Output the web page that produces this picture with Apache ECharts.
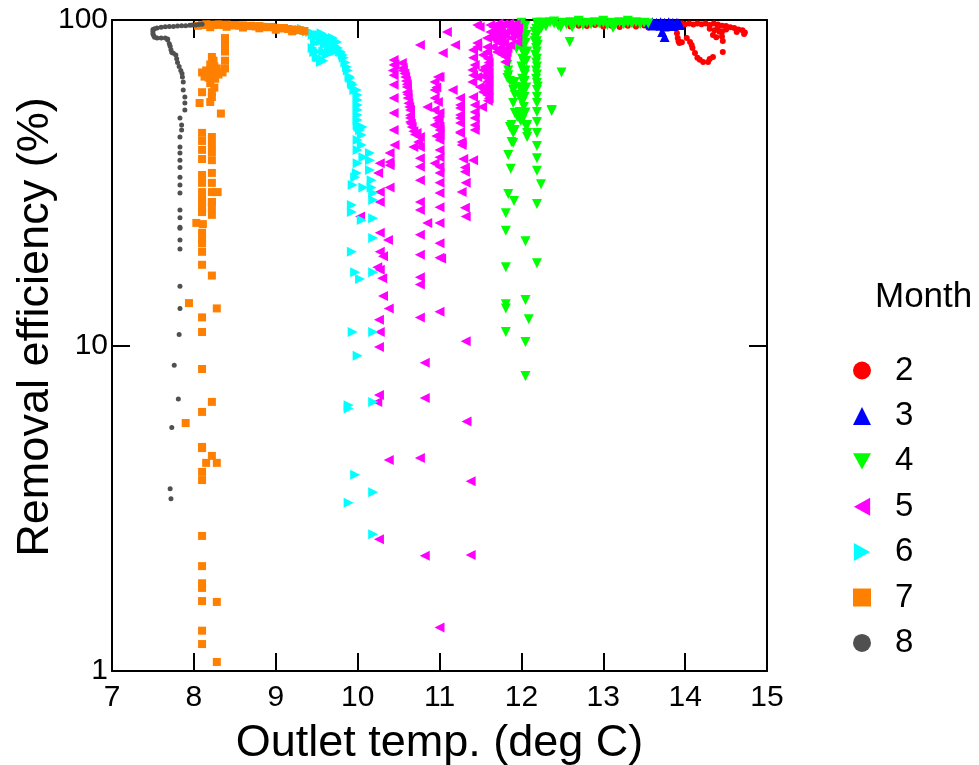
<!DOCTYPE html>
<html><head><meta charset="utf-8">
<script src="https://cdn.jsdelivr.net/npm/echarts@6/dist/echarts.min.js"></script>
<style>html,body{margin:0;padding:0;background:#fff}#c{width:979px;height:765px}</style>
</head><body><div id="c"></div>
<script>
const months = ['2','3','4','5','6','7','8'];
const xTicks = [7,8,9,10,11,12,13,14,15];
const yTicks = [1,10,100];

const month2 = [
[12.6,95.5],[12.7,96],[12.8,95.8],[12.9,96.5],[13.0,95.5],[13.1,96],[13.2,95.2],[13.3,96],[13.4,95.5],[13.5,96.2],[13.55,94.8],[13.6,95.5],
[13.92,96.5],[13.96,97.5],[14.0,97],[14.05,97.5],[14.1,96.8],[14.15,97.5],[14.2,97],[14.25,97.5],[14.3,96.5],[14.35,97.5],[14.4,96.8],[14.45,96],[14.5,95.8],[14.55,95],[14.6,94.5],[14.65,93.5],[14.7,93],[14.73,91.5],[14.72,90.5],[14.63,91.8],[14.5,93.5],[14.45,92],[14.42,92],[14.45,89],[14.38,88.5],[14.34,90],[14.36,93],[14.4,95],[14.3,94],
[13.89,94],[13.9,91],[13.91,88],[13.92,86],[13.93,85],[13.96,85.5],[14.02,88],[14.06,85.6],[14.08,83.8],[14.09,82],[14.12,79.2],[14.15,76.5],[14.18,75.5],[14.22,74.3],[14.28,74.3],[14.3,75.9],[14.34,77],[14.46,79.7],[14.46,86.2]
];
const month3 = [
[13.55,98],[13.58,97],[13.6,98.5],[13.62,97.5],[13.65,98],[13.68,97],[13.7,98.5],[13.72,97.5],[13.75,98],[13.78,97],[13.8,98.5],[13.82,97.5],[13.85,98],[13.88,97],[13.9,98],[13.92,97.5],[13.94,96.5],[13.7,96],[13.75,95.5],[13.8,96],[13.85,95.8],[13.6,96.2],[13.72,91.9],[13.75,88.7]
];
const month4 = [
[12.25,98],[12.3,97],[12.35,98.5],[12.4,97.5],[12.45,96],[12.5,98],[12.55,97],[12.6,98.5],[12.62,95],[12.65,97.5],[12.7,98],[12.75,96.5],[12.8,98],[12.85,97],[12.9,98.5],[12.95,97.5],[13.0,98],[13.05,96.5],[13.1,98],[13.12,94.5],[13.15,97],[13.2,98.5],[13.25,97],[13.3,98],[13.35,97.5],[13.4,98.5],[13.45,97],[13.5,98],[13.55,97.5],[12.4,99],[12.7,99.5],[13.0,99.5],[13.3,99.5],[12.3,95.5],[12.48,95],
[12.59,85.6],[12.49,69],[12.37,52.9],[12.37,52.5],
[12.19,98],[12.2,96],[12.18,94],[12.2,92],[12.19,90],[12.17,88],[12.19,86],[12.2,84],[12.18,82],[12.19,80],[12.17,78],[12.19,76],[12.18,74],[12.19,72],[12.18,70],[12.19,68],[12.18,66],[12.19,64],[12.2,62.5],[12.19,61],[12.22,96],[12.24,94],[12.23,98],[12.16,92],[12.16,86],
[12.19,58],[12.19,55.6],[12.19,52.2],[12.19,48.6],[12.19,45],[12.19,41],[12.19,37.6],[12.19,34.4],[12.24,31.3],[12.19,27.2],[12.19,17.9],
[12.0,98],[12.02,96],[12.0,94],[12.03,92],[12.0,90],[12.02,88],[12.01,86],[12.03,84],[12.0,82],[12.02,80],[12.04,78],[12.01,76],[12.03,74],[12.0,72],[12.02,70],[12.04,68],[12.01,66],[12.03,64],[12.0,62],[12.02,60],[12.04,58],[12.01,56],[12.03,54],[12.05,52],[12.02,50.5],[11.99,49],[12.06,47],[12.07,45],[12.07,43.7],[11.97,96],[11.98,92],[11.97,88],[12.05,96],[12.06,90],[12.05,85],[12.07,80],[12.06,75],[12.05,70],[12.04,65],[12.06,62],[11.98,58],[11.98,62],[11.94,81.8],[12.04,78],[12.01,49.3],[12.07,47.6],[11.98,52.2],[11.98,50],
[11.83,72.7],[11.84,70],[11.84,67.7],[11.83,66.3],[11.86,65],[11.92,64.5],[11.92,62.2],[11.9,60.9],[11.92,58.8],[11.9,55.6],[11.92,51.8],[11.95,50.4],[11.88,47.6],[11.86,46.9],[11.92,45.9],[11.9,45],[11.88,42.2],
[11.9,41.9],[11.84,38.5],[11.87,34.9],[11.84,29.2],[11.91,27.8],[11.81,25.5],[11.81,22.5],[12.05,20.9],[11.81,17.4],[12.05,13.8],[11.81,13.4],[11.81,13.0],[12.09,12.05],[11.81,11.0],[12.05,10.25],[12.05,8.06]
];
const month5 = [
[10.76,83.8],[11.04,79.2],[11.09,91.9],[11.19,83.8],
[10.44,75.4],[10.45,73],[10.44,72.7],[10.43,70],[10.44,67.7],[10.44,63.2],[10.44,57.6],[10.44,51.8],[10.44,45.9],[10.45,41.3],
[10.39,39.0],[10.39,36.6],[10.39,35.8],[10.27,36.3],[10.25,33.9],[10.39,30.6],[10.27,29.6],[10.27,27.6],[10.27,22.2],[10.37,21.1],[10.27,19.4],[10.03,24.9],
[10.31,18.8],[10.24,17.4],[10.27,17.1],[10.3,16.1],[10.31,14.2],[10.38,13.0],[10.26,12.0],[10.27,11.0],[10.26,9.9],[10.26,7.05],[10.24,6.71],[10.38,4.45],[10.26,2.54],
[10.54,73.8],[10.55,71.2],[10.55,70],[10.57,68.5],[10.58,66.8],[10.59,65],[10.6,63.5],[10.6,62.2],[10.6,60],[10.61,59],[10.61,57.6],[10.62,55.5],[10.63,54],[10.64,52.9],[10.64,51],[10.64,50],[10.64,48.6],[10.65,48],[10.66,46.9],[10.68,45.5],[10.7,44.5],[10.72,45],[10.76,43.7],[10.74,42.2],[10.68,40.7],[10.76,40.7],
[10.94,64.5],[10.98,66.8],[11.0,66.8],[10.94,60.9],[10.96,62],[10.94,57.6],[10.98,56],[10.94,52.9],[10.97,50],[10.99,49],[11.0,47],[10.94,47.6],[10.96,44],[11.0,44.5],[11.0,51.8],[11.0,45.9],[11.0,42.8],[11.0,39.9],[11.0,37.9],[10.94,36.3],[11.0,35.4],[11.0,33.9],[11.0,31.6],[11.0,29.4],[11.0,26.6],[11.0,23.8],[11.0,20.6],[11.0,18.6],[11.02,18.5],[11.0,12.7],[11.0,1.36],
[10.76,37.6],[10.76,35.4],[10.76,32.2],[10.76,27.6],[10.76,26.1],[10.76,21.9],[10.76,19.0],[10.76,16.2],[10.76,15.4],[10.76,12.2],[10.85,23.8],[10.85,54.0],[10.82,8.85],[10.82,6.9],[10.76,4.51],[10.82,2.26],
[11.16,60.9],[11.25,57.6],[11.25,54.8],[11.25,53.7],[11.25,51.1],[11.25,50],[11.25,48.3],[11.25,45.3],[11.25,45],[11.27,42.2],[11.27,41.3],[11.29,37.4],[11.41,37.1],[11.31,35.2],[11.31,34.2],[11.32,31.6],[11.27,29.6],[11.31,26.5],[11.32,24.9],[11.32,10.3],[11.33,5.84],[11.38,3.83],[11.38,2.27],
[11.41,80.9],[11.46,82.6],[11.53,78.1],[11.58,79.7],[11.41,76.5],[11.43,72.7],[11.4,70.2],[11.41,67.7],[11.46,66.8],[11.4,64.5],[11.53,70.2],[11.55,67.7],[11.58,64.5],[11.55,62.2],[11.58,58.8],[11.53,60.1],[11.49,62.2],[11.41,58],[11.43,54.8],[11.43,52.2],[11.43,50],[11.43,47.6],[11.43,45.9],[11.52,54],
[11.46,96.5],[11.49,95.2],[11.62,96.5],[11.62,91.9],[11.58,88],[11.64,88],[11.46,85],[11.58,82.6],[11.55,71.7],[11.55,66.8],[11.55,60.9],
[11.59,76],[11.6,74],[11.59,72],[11.6,69],[11.59,67],[11.6,65],[11.59,63],[11.6,61],[11.59,59],[11.6,57.5],[11.59,56.5],
[11.7,96.5],[11.74,94.5],[11.82,96.5],[11.9,96.5],[11.96,94.5],[11.7,89.9],[11.71,85.6],[11.76,88],[11.74,82],[11.77,78.1],[11.8,74.3],[11.82,79.7],[11.86,83.8],[11.92,89.9],[11.95,85.6],[11.68,91.9],[11.65,82.6],[11.7,79.7],
[11.72,97.5],[11.78,97],[11.85,97.5],[11.88,95],[11.93,97],[11.75,92],[11.8,90],[11.84,92.5],[11.88,88],[11.79,85],[11.83,82],[11.9,92],[11.95,91],[11.68,88],[11.72,86],[11.76,80],[11.81,77],[11.66,95]
];
const month6 = [
[9.3,93.2],[9.32,94],[9.35,93],[9.38,92],[9.42,91.9],[9.45,89.9],[9.47,90.5],[9.5,88.7],[9.52,90],[9.54,89.9],[9.56,91],[9.58,90],[9.6,89],[9.62,88.7],[9.65,88],[9.68,87.5],[9.7,88],[9.72,86],[9.75,85.6],[9.73,83],[9.76,82],[9.78,80],[9.8,79.7],[9.82,78],[9.83,76.5],[9.85,74],[9.87,71.7],[9.88,70],[9.9,67],[9.91,66.3],[9.93,64],[9.94,63.2],[9.96,61],[9.99,60.9],[10.0,58.8],[10.0,56.8],[10.0,54.8],[10.0,52.9],[10.0,51.1],[10.0,49.3],[10.0,47.6],[10.01,46.9],[10.03,45.9],[10.06,46.9],[10.05,44.3],[10.0,42.8],[10.05,41.3],[10.0,39.9],[10.07,37.9],[10.15,39],[10.0,36.3],[10.15,37.1],[10.15,34.6],[9.99,33.9],[9.97,32.9],[9.94,31.1],[10.07,30.6],[10.17,32.2],[10.17,30.6],[10.19,29.4],[10.19,28],[9.93,27],[9.93,25.7],[10.05,24.3],[10.19,24.6],[10.19,21.4],[9.93,19.4],[9.97,16.8],[10.19,16.8],[10.03,16],[9.94,11],[10.19,11],[10.0,9.3],[10.19,6.71],[9.89,6.55],[9.89,6.4],[9.97,4.01],[10.19,3.54],[9.89,3.29],[10.19,2.63],
[9.45,82],[9.47,79.7],[9.5,77],[9.52,76.5],[9.55,74.3],[9.58,75],[9.5,80],[9.62,78],[9.65,80],[9.67,83],[9.7,82],[9.6,84],[9.55,86],[9.48,85],[9.63,86],[9.72,80],[9.58,80]
];
const month7 = [
[8.05,96],[8.1,96.5],[8.15,97],[8.2,96.8],[8.25,96.5],[8.3,97],[8.35,96.5],[8.4,96.8],[8.45,96.2],[8.5,96.5],[8.55,96],[8.6,96.3],[8.65,95.8],[8.7,96],[8.75,95.5],[8.8,95.8],[8.85,95.3],[8.9,95],[8.95,95.2],[9.0,94.6],[9.05,94.2],[9.1,94.5],[9.15,93.8],[9.2,93.5],[9.25,93.2],[9.3,93],[9.35,92.5],[8.2,95],[8.4,95.3],[8.6,94.8],[8.8,94.3],[9.0,93.3],[9.2,92.3],
[8.38,88],[8.38,84],[8.38,80],[8.38,75],[8.38,71],
[8.22,77],[8.24,75],[8.2,73],[8.25,72],[8.15,70],[8.1,69],[8.3,68],[8.22,68],[8.18,66.5],[8.26,66],[8.2,64],[8.25,62],[8.22,60],[8.22,58],[8.2,56],[8.1,60],[8.2,70],[8.28,71],[8.13,67],[8.35,69],[8.07,55.6],[8.33,51.6],
[8.1,45.0],[8.1,42.5],[8.1,39.9],[8.1,37.4],[8.1,33.4],[8.1,31.6],[8.1,29.6],[8.1,28.0],[8.1,26.6],
[8.22,43.7],[8.22,41.3],[8.22,39.3],[8.22,37.1],[8.22,33.9],[8.22,31.6],[8.22,29.6],[8.29,29.6],[8.22,27.6],
[8.1,27.6],[8.22,27.6],[8.1,26.1],[8.22,26.5],[8.1,25.7],[8.22,25.2],[8.03,23.8],[8.11,23.6],[8.1,22.2],[8.1,21.1],[8.1,20.6],[8.1,19.4],[8.1,17.7],[8.22,16.4],[7.94,13.5],[8.28,13.0],[8.1,12.2],[8.1,11.0],[8.1,8.47],[8.22,6.71],[8.1,6.25],[7.9,5.78],[8.1,4.88],
[8.1,4.84],[8.22,4.58],[8.15,4.36],[8.28,4.36],[8.1,4.09],[8.1,3.86],[8.1,2.6],[8.1,2.1],[8.1,1.86],[8.1,1.8],[8.1,1.64],[8.28,1.63],[8.1,1.33],[8.1,1.21],[8.28,1.066]
];
const month8 = [
[7.5,93.5],[7.52,94],[7.55,94.5],[7.6,95],[7.65,95.3],[7.7,95.5],[7.75,95.5],[7.8,95.8],[7.85,96],[7.9,96],[7.95,96.3],[7.98,96.5],[8.02,96.5],[8.06,96.8],[8.1,97],
[7.5,92],[7.5,90.5],[7.51,89.5],[7.52,88.5],[7.55,88],[7.6,88],[7.65,88],[7.68,87.5],[7.68,86.8],[7.7,84.5],[7.71,83],[7.72,81],[7.73,79.5],[7.75,79],[7.78,78],[7.79,76],[7.8,74],[7.82,72],[7.84,70],[7.855,68.5],[7.86,66.8],
[7.87,64.5],[7.87,60.9],[7.89,58.0],[7.89,55.6],[7.89,52.9],[7.83,50.0],[7.85,47.6],[7.85,45.9],[7.83,43.7],[7.83,40.7],[7.83,39.0],[7.83,37.1],[7.83,35.2],[7.83,32.9],[7.83,31.1],[7.83,29.4],
[7.83,26.1],[7.83,24.7],[7.83,23.1],[7.83,22.9],[7.83,21.1],[7.83,19.8],[7.83,15.2],[7.83,13.0],[7.82,10.8],[7.76,8.7],[7.81,6.85],[7.73,5.6],[7.71,3.63],[7.72,3.38]
];

const seriesData = [month2, month3, month4, month5, month6, month7, month8];
const colors = ['#ff0000','#0000ff','#00ff00','#ff00ff','#00ffff','#ff8000','#505050'];
const symbols = ['circle','triangle','path://M0,0L10,0L5,9Z','path://M9,0L9,10L0,5Z','path://M0,0L0,10L9,5Z','rect','circle'];
const sizes = [6,10,10,10,10,8,5];

const FONT = 'Liberation Sans, Arial, sans-serif';
const chart = echarts.init(document.getElementById('c'), null, {renderer:'canvas'});
const axisCommon = {
  axisLine:{show:true,onZero:false,lineStyle:{color:'#000',width:2}},
  axisTick:{show:true,inside:true,length:18,lineStyle:{color:'#000',width:2}},
  splitLine:{show:false}, minorTick:{show:false}
};
chart.setOption({
  animation:false,
  backgroundColor:'#fff',
  textStyle:{fontFamily:FONT},
  grid:{left:112,right:212,top:20,bottom:94,containLabel:false,outerBoundsMode:'none'},
  xAxis:[
    Object.assign({type:'value',min:xTicks[0],max:xTicks[xTicks.length-1],interval:1,position:'bottom',
      axisLabel:{fontSize:30,color:'#000',margin:12,fontFamily:FONT},
      name:'Outlet temp. (deg C)',nameLocation:'middle',nameGap:50,
      nameTextStyle:{fontSize:45,color:'#000',fontFamily:FONT}},axisCommon),
    Object.assign({type:'value',min:xTicks[0],max:xTicks[xTicks.length-1],interval:1,position:'top',axisLabel:{show:false}},axisCommon)
  ],
  yAxis:[
    Object.assign({type:'log',logBase:10,min:yTicks[0],max:yTicks[yTicks.length-1],position:'left',
      axisLabel:{fontSize:30,color:'#000',margin:4,fontFamily:FONT}},axisCommon),
    Object.assign({type:'log',logBase:10,min:yTicks[0],max:yTicks[yTicks.length-1],position:'right',axisLabel:{show:false}},axisCommon)
  ],
  legend:{
    orient:'vertical',left:848,top:349,itemWidth:18,itemHeight:18,itemGap:12.4,
    textStyle:{fontSize:33,color:'#000',fontFamily:FONT,lineHeight:32,padding:[0,0,0,19]},
    data:months.map((m,i)=>({name:m,icon:symbols[i],itemStyle:{color:colors[i]}}))
  },
  graphic:[
    {type:'text',left:875,top:280,style:{text:'Month',fontSize:35,fontFamily:FONT,fill:'#000'}},
    {type:'text',x:36,y:327,rotation:Math.PI/2,style:{text:'Removal efficiency (%)',fontSize:45,fontFamily:FONT,fill:'#000',textAlign:'center',textVerticalAlign:'middle'}}
  ],
  series:seriesData.map((d,i)=>({
    type:'scatter',name:months[i],data:d,symbol:symbols[i],symbolSize:sizes[i],
    itemStyle:{color:colors[i],opacity:1},emphasis:{disabled:true},xAxisIndex:0,yAxisIndex:0,z:2+i
  }))
});
</script></body></html>
